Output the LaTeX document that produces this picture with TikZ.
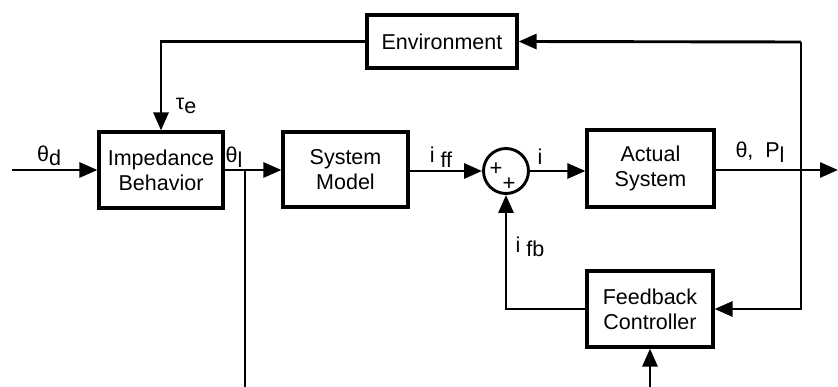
\documentclass[tikz,border=0pt]{standalone}
\usepackage{fontspec}
\setmainfont{Liberation Sans}
\usetikzlibrary{arrows.meta}
\newcommand{\sbs}[1]{\raisebox{-4.5pt}{#1}}
\begin{document}
\begin{tikzpicture}[x=1pt,y=-1pt,
  blk/.style={draw, line width=3.2pt, align=center, inner sep=0pt,
    font=\fontsize{21.5}{25}\selectfont},
  lbl/.style={inner sep=0pt, font=\fontsize{21.5}{25}\selectfont},
  plus/.style={inner sep=0pt, font=\fontsize{22}{22}\selectfont},
  arr/.style={-{Triangle[length=18pt,width=15pt]}, line width=2.9pt},
  ln/.style={line width=2.9pt}]
\useasboundingbox (0,0) rectangle (838,387);

\node[blk, minimum width=124pt, minimum height=76pt] (imp) at (161,170) {Impedance\\Behavior};
\node[blk, minimum width=125pt, minimum height=75pt] (sys) at (345.5,169.5) {System\\Model};
\node[blk, minimum width=127pt, minimum height=77pt] (act) at (650.5,168.5) {Actual\\System};
\node[blk, minimum width=150pt, minimum height=53pt] (env) at (442,41.5) {Environment};
\node[blk, minimum width=126pt, minimum height=76pt] (fb) at (650,309) {Feedback\\Controller};
\node[draw, circle, line width=2.9pt, minimum size=45pt, inner sep=0pt] (sum) at (506,171) {};

\node[plus] (p1) at (496,169) {+};
\node[plus] (p2) at (509,184) {+};

\coordinate (in) at (12,170);
\coordinate (tap) at (245,170);
\coordinate (bot1) at (245,387);
\coordinate (out) at (838,170);
\coordinate (tr) at (801,42);
\coordinate (bot2) at (650,387);

\draw[arr] (in) -- (imp.west);
\draw[arr] (imp.east) -- (imp.east -| sys.west);
\draw[ln] (tap) -- (bot1);
\draw[arr] (sys.east |- sum.west) -- (sum.west);
\draw[arr] (sum.east) -- (sum.east -| act.west);
\draw[arr] (act.east |- out) -- (out);
\draw[arr] (tr) -- (env.east);
\draw[arr] (tr) |- (fb.east);
\draw[arr] (env.west) -| (imp.north);
\draw[arr] (fb.west) -| (sum.south);
\draw[arr] (bot2) -- (fb.south);

\node[lbl] (ld) at (49,156) {θ\sbs{d}};
\node[lbl] (ll) at (234,157) {θ\sbs{l}};
\node[lbl] (le) at (186,106) {τ\sbs{e}};
\node[lbl] (lff) at (441,157) {i \sbs{ff}};
\node[lbl] (li) at (540,157) {i};
\node[lbl] (lfb) at (530,247) {i \sbs{fb}};
\node[lbl] (lout) at (760,152) {θ,\ \ P\sbs{l}};
\end{tikzpicture}
\end{document}
